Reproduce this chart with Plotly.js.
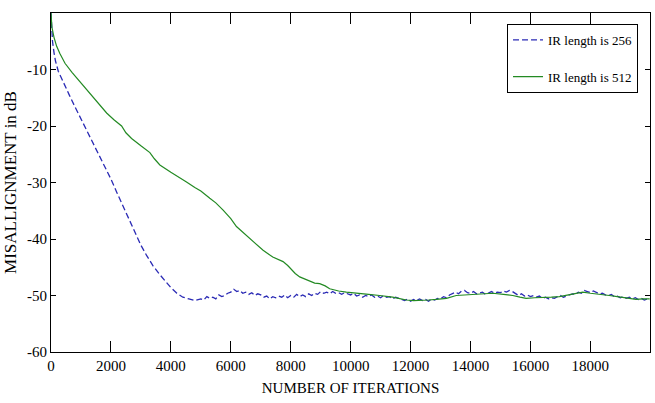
<!DOCTYPE html>
<html>
<head>
<meta charset="utf-8">
<script src="https://cdn.plot.ly/plotly-3.0.1.min.js"></script>
<style>html,body{margin:0;padding:0;background:#fff;}#chart{width:655px;height:403px;}</style>
</head>
<body>
<div id="chart"></div>
<script>
// IR length 256 (blue dashed)
const iter256 = [0,20,50,100,150,243,400,600,800,1000,1200,1400,1600,1800,2000,2200,2400,2600,2800,3000,3200,3400,3600,3800,4000,4200,4400,4600,4800,
  5000,5100,5200,5300,5400,5500,5600,5700,5800,5900,6000,6100,6200,6300,6400,6500,6600,6700,6800,6900,7000,7100,7200,7300,7400,7500,7600,7700,7800,7900,8000,8100,8200,8300,8400,8500,8600,8700,8800,8900,9000,9100,9200,9300,9400,9500,9600,9700,9800,9900,
  10000,10100,10200,10300,10400,10500,10600,10700,10800,10900,11000,11100,11200,11300,11400,11500,11600,11700,11800,11900,12000,12100,12200,12300,12400,12500,12600,12700,12800,12900,13000,13100,13200,13300,13400,13500,13600,13700,13800,13900,14000,14100,14200,14300,14400,14500,14600,14700,14800,14900,
  15000,15100,15200,15300,15400,15500,15600,15700,15800,15900,16000,16100,16200,16300,16400,16500,16600,16700,16800,16900,17000,17100,17200,17300,17400,17500,17600,17700,17800,17900,18000,18100,18200,18300,18400,18500,18600,18700,18800,18900,19000,19100,19200,19300,19400,19500,19600,19700,19800,19900,19980];
const mis256 = [0,-2.5,-5.0,-7.0,-8.5,-10.3,-12.2,-14.4,-16.6,-18.7,-20.8,-23.0,-25.1,-27.3,-29.4,-31.8,-34.2,-36.6,-39.0,-41.1,-43.0,-44.7,-46.1,-47.4,-48.6,-49.6,-50.3,-50.6,-50.9,
  -50.6,-50.8,-50.2,-50.5,-50.3,-50.6,-49.9,-50.2,-50.0,-49.6,-49.4,-48.9,-49.3,-49.1,-49.6,-49.4,-49.8,-49.5,-50.0,-49.7,-49.9,-50.3,-50.1,-50.6,-50.2,-50.4,-50.1,-50.3,-49.9,-50.4,-50.0,-50.3,-49.8,-50.2,-49.9,-50.2,-49.7,-50.0,-49.6,-49.8,-49.3,-49.6,-49.4,-49.7,-49.3,-49.6,-49.5,-49.8,-49.5,-49.7,
  -49.9,-49.6,-50.1,-49.9,-50.3,-50.0,-50.2,-49.9,-50.3,-50.1,-50.4,-50.0,-50.3,-50.2,-50.6,-50.3,-50.5,-50.7,-50.9,-50.6,-51.0,-50.7,-50.9,-50.6,-50.9,-50.7,-51.0,-50.6,-50.8,-50.5,-50.6,-50.2,-50.4,-49.9,-49.6,-49.4,-49.7,-49.2,-49.1,-49.5,-49.6,-49.3,-49.7,-49.5,-49.4,-49.8,-49.5,-49.3,-49.6,-49.4,
  -49.5,-49.2,-49.4,-49.1,-49.3,-49.6,-50.0,-49.7,-50.1,-49.9,-50.2,-50.0,-50.3,-50.1,-50.5,-50.3,-50.6,-50.4,-50.5,-50.2,-50.0,-50.3,-50.1,-49.9,-49.7,-49.8,-49.4,-49.6,-49.1,-49.3,-49.5,-49.2,-49.4,-49.7,-49.6,-49.9,-50.0,-49.8,-50.2,-50.1,-50.4,-50.2,-50.5,-50.3,-50.6,-50.4,-50.7,-50.5,-50.8,-50.6,-50.8];

// IR length 512 (green solid)
const iter512 = [0,30,100,189,300,467,700,911,1200,1467,1650,1856,2100,2356,2500,2689,3000,3300,3450,3633,4000,4300,4522,4800,5000,5300,5500,5744,6000,6189,6400,6600,6850,7078,7400,7600,7744,7900,8000,8150,8300,8500,8650,8800,8967,9150,9300,9450,9600,9856,10100,10300,10600,10967,11200,11400,11600,11856,12100,12300,12600,12856,13200,13522,13800,14000,14400,14744,15100,15411,15650,15856,16150,16400,16700,16967,17200,17400,17744,18000,18200,18400,18633,18900,19100,19300,19522,19750,19980];
const mis512 = [0,-2.5,-4.3,-5.9,-7.2,-8.9,-10.5,-11.8,-13.7,-15.4,-16.5,-17.7,-18.9,-20.0,-21.2,-22.2,-23.5,-24.7,-25.8,-26.9,-28.2,-29.1,-29.9,-30.9,-31.5,-32.8,-33.6,-34.9,-36.4,-37.8,-38.8,-39.8,-41.0,-42.0,-43.2,-43.6,-44.0,-44.7,-45.3,-46.1,-46.7,-47.1,-47.4,-47.8,-47.9,-48.3,-48.8,-49.0,-49.2,-49.4,-49.5,-49.7,-49.8,-50.0,-50.1,-50.3,-50.5,-50.8,-50.9,-50.9,-50.8,-50.7,-50.5,-50.0,-49.9,-49.8,-49.7,-49.6,-49.8,-50.0,-50.3,-50.5,-50.4,-50.4,-50.3,-50.2,-50.0,-49.8,-49.4,-49.6,-49.7,-49.9,-50.0,-50.2,-50.4,-50.5,-50.7,-50.6,-50.6];

const xTicks = [0,2000,4000,6000,8000,10000,12000,14000,16000,18000];
const yTicks = [-60,-50,-40,-30,-20,-10];
const seriesNames = ['IR length is 256','IR length is 512'];

const font = 'Liberation Serif';

const traces = [
  {x: iter256, y: mis256, type: 'scatter', mode: 'lines', name: seriesNames[0],
   line: {color: '#2b2bb5', width: 1.3, dash: '6px,3px'}, legendgroup: 'a'},
  {x: iter512, y: mis512, type: 'scatter', mode: 'lines', name: seriesNames[1],
   line: {color: '#238a23', width: 1.2}, legendgroup: 'b'}
];

const layout = {
  width: 655, height: 403,
  margin: {l: 51, r: 5, t: 13, b: 51, autoexpand: false},
  paper_bgcolor: '#fff', plot_bgcolor: '#fff',
  font: {family: font, size: 14, color: '#000'},
  showlegend: true,
  legend: {x: 0.98, y: 0.968, xanchor: 'right', yanchor: 'top',
    bordercolor: '#000', borderwidth: 1, bgcolor: '#fff',
    font: {family: font, size: 13, color: '#000'},
    traceorder: 'grouped', tracegroupgap: 17},
  xaxis: {
    range: [0, 19990], tickvals: xTicks, ticktext: xTicks.map(String),
    ticks: 'inside', ticklen: 11, tickcolor: '#000', tickwidth: 1,
    showline: true, linecolor: '#000', linewidth: 1, mirror: 'ticks',
    showgrid: false, zeroline: false,
    tickfont: {family: font, size: 15},
    title: {text: 'NUMBER OF ITERATIONS', font: {family: font, size: 15}, standoff: 9}
  },
  yaxis: {
    range: [-60, 0], tickvals: yTicks, ticktext: yTicks.map(String),
    ticks: 'inside', ticklen: 5, tickcolor: '#000', tickwidth: 1,
    showline: true, linecolor: '#000', linewidth: 1, mirror: 'ticks',
    showgrid: false, zeroline: false,
    tickfont: {family: font, size: 15},
    title: {text: 'MISALLIGNMENT in dB', font: {family: font, size: 17}, standoff: 6}
  }
};

Plotly.newPlot('chart', traces, layout, {displayModeBar: false, staticPlot: true});
</script>
</body>
</html>
